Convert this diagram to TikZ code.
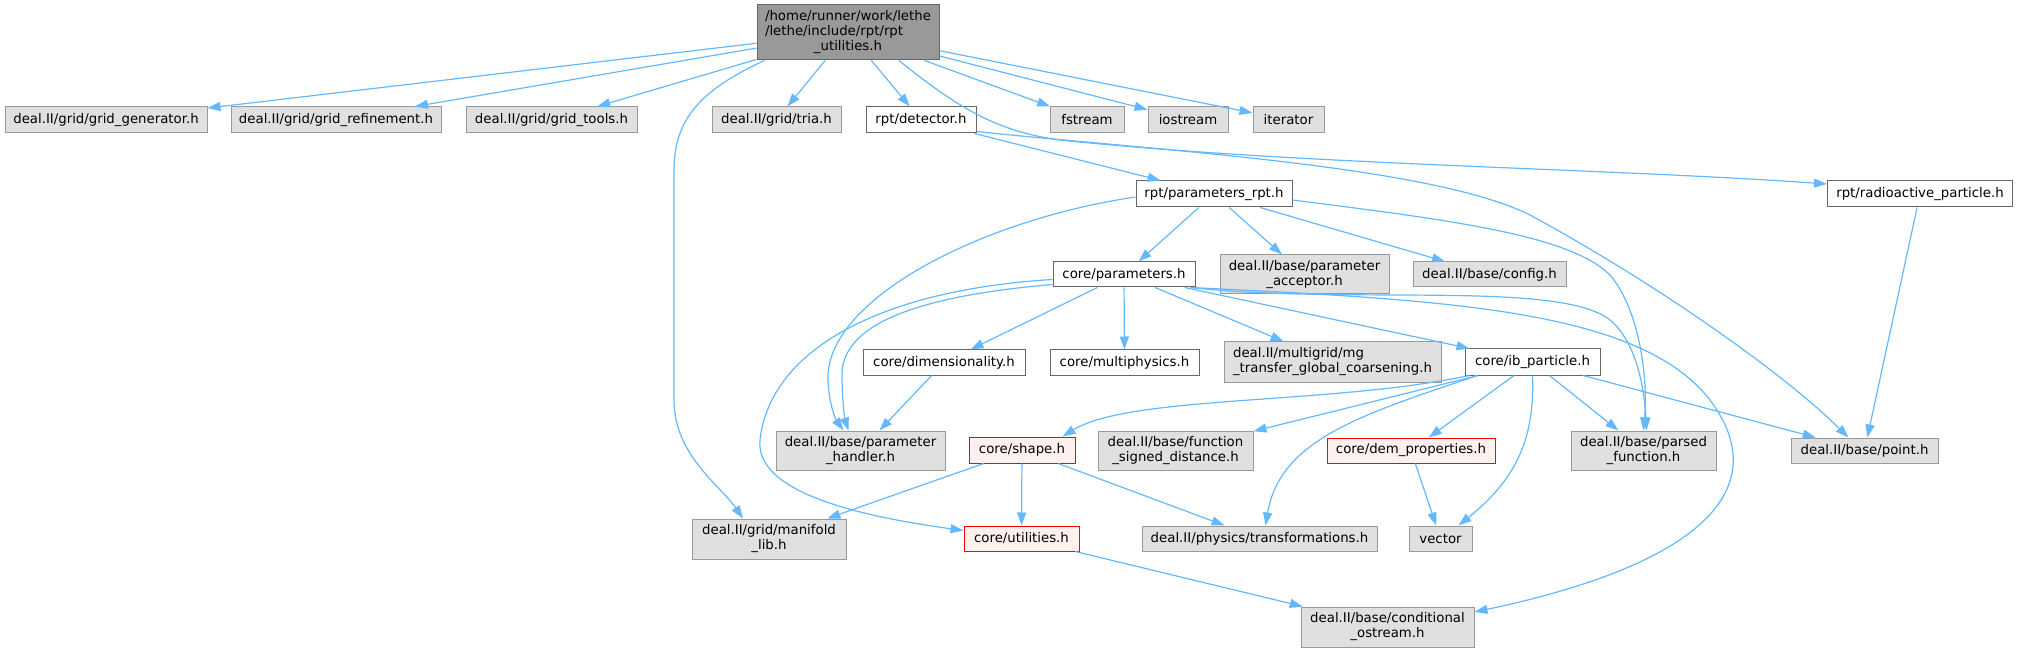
\documentclass[tikz,border=0pt]{standalone}
\usepackage{fontspec}
\setmainfont{DejaVu Sans}
\usepackage{tikz}
\usetikzlibrary{arrows.meta}
\usepackage{xcolor}
\definecolor{edgeblue}{HTML}{63B8FF}
\definecolor{boxgray}{HTML}{E0E0E0}
\definecolor{linegray}{HTML}{999999}
\definecolor{darkline}{HTML}{666666}
\definecolor{warnfill}{HTML}{FFF0F0}
\definecolor{warnred}{HTML}{FF0000}

\begin{document}
\begin{tikzpicture}[
  x=1pt, y=-1pt,
  incl/.style={rectangle, inner sep=0pt, line width=1pt, align=center, font=\fontsize{13.3}{15}\selectfont},
  rootnode/.style={incl, fill=linegray, draw=darkline},
  extnode/.style={incl, fill=boxgray, draw=linegray},
  filenode/.style={incl, fill=white, draw=darkline},
  warnnode/.style={incl, fill=warnfill, draw=warnred},
  arrow/.style={-{Triangle[length=13pt,width=9pt]}, draw=edgeblue, line width=1.2pt}
]
\useasboundingbox (0,0) rectangle (2019,652);

\node[rootnode, minimum width=182pt, minimum height=55pt] (root) at (848,32.5)
  {\begin{tabular}{@{}l@{}}/home/runner/work/lethe\\/lethe/include/rpt/rpt\\\multicolumn{1}{@{}c@{}}{\_utilities.h}\end{tabular}};

\node[extnode, minimum width=202pt, minimum height=26pt] (gridgen) at (106,120) {deal.II/grid/grid\_generator.h};
\node[extnode, minimum width=210pt, minimum height=26pt] (gridref) at (336,120) {deal.II/grid/grid\_refinement.h};
\node[extnode, minimum width=171pt, minimum height=26pt] (gridtools) at (551.5,120) {deal.II/grid/grid\_tools.h};
\node[extnode, minimum width=129pt, minimum height=26pt] (tria) at (776.5,120) {deal.II/grid/tria.h};
\node[filenode, minimum width=110pt, minimum height=26pt] (detector) at (921,120) {rpt/detector.h};
\node[extnode, minimum width=74pt, minimum height=26pt] (fstream) at (1087,120) {fstream};
\node[extnode, minimum width=80pt, minimum height=26pt] (iostream) at (1188,120) {iostream};
\node[extnode, minimum width=71pt, minimum height=26pt] (iterator) at (1288.5,120) {iterator};

\node[filenode, minimum width=156pt, minimum height=26pt] (paramrpt) at (1214,194) {rpt/parameters\_rpt.h};
\node[filenode, minimum width=185pt, minimum height=26pt] (radio) at (1920,194) {rpt/radioactive\_particle.h};

\node[filenode, minimum width=142pt, minimum height=25pt] (coreparam) at (1124,274.5) {core/parameters.h};
\node[extnode, minimum width=169pt, minimum height=39pt] (acceptor) at (1304.5,274.5) {deal.II/base/parameter\\\_acceptor.h};
\node[extnode, minimum width=153pt, minimum height=25pt] (config) at (1489.5,274.5) {deal.II/base/config.h};

\node[filenode, minimum width=162pt, minimum height=25pt] (dimens) at (944,362.5) {core/dimensionality.h};
\node[filenode, minimum width=149pt, minimum height=25pt] (multiphys) at (1124.5,362.5) {core/multiphysics.h};
\node[extnode, minimum width=217pt, minimum height=40pt, align=left] (mgtransfer) at (1332.5,362) {deal.II/multigrid/mg\\\_transfer\_global\_coarsening.h};
\node[filenode, minimum width=135pt, minimum height=26pt] (ibpart) at (1532.5,362) {core/ib\_particle.h};

\node[extnode, minimum width=169pt, minimum height=39pt] (handler) at (860.5,450.5) {deal.II/base/parameter\\\_handler.h};
\node[warnnode, minimum width=106pt, minimum height=26pt] (shape) at (1022,450) {core/shape.h};
\node[extnode, minimum width=155pt, minimum height=39pt] (signdist) at (1175.5,450.5) {deal.II/base/function\\\_signed\_distance.h};
\node[warnnode, minimum width=168pt, minimum height=25pt] (demprop) at (1411,450.5) {core/dem\_properties.h};
\node[extnode, minimum width=145pt, minimum height=39pt] (parsed) at (1643.5,450.5) {deal.II/base/parsed\\\_function.h};
\node[extnode, minimum width=147pt, minimum height=25pt] (point) at (1864.5,450.5) {deal.II/base/point.h};

\node[extnode, minimum width=154pt, minimum height=40pt] (manifold) at (769,539) {deal.II/grid/manifold\\\_lib.h};
\node[warnnode, minimum width=115pt, minimum height=25pt] (utilities) at (1021.5,538.5) {core/utilities.h};
\node[extnode, minimum width=235pt, minimum height=25pt] (transf) at (1259.5,538.5) {deal.II/physics/transformations.h};
\node[extnode, minimum width=63pt, minimum height=25pt] (vector) at (1440.5,538.5) {vector};

\node[extnode, minimum width=173pt, minimum height=40pt] (condout) at (1387.5,627) {deal.II/base/conditional\\\_ostream.h};

\draw[arrow] (root) -- (gridgen);
\draw[arrow] (root) -- (gridref);
\draw[arrow] (root) -- (gridtools);
\draw[arrow] (root) -- (tria);
\draw[arrow] (root) -- (detector);
\draw[arrow] (root) -- (fstream);
\draw[arrow] (root) -- (iostream);
\draw[arrow] (root) -- (iterator);
\draw[arrow] ([xshift=8pt]root.south west) .. controls (700,90) and (674,120) .. (674,170) -- (674,400) .. controls (674,455) and (720,485) .. ([xshift=-26pt]manifold.north);
\draw[arrow] ([xshift=51pt]root.south) .. controls (960,110) and (1000,132) .. (1060,140) .. controls (1300,165) and (1600,168) .. ([yshift=10pt]radio.west);

\draw[arrow] (detector) -- (paramrpt);
\draw[arrow] ([yshift=2pt]detector.south east) .. controls (1150,150) and (1430,165) .. (1530,215) .. controls (1650,280) and (1780,370) .. ([xshift=-16pt]point.north);

\draw[arrow] (paramrpt) -- (coreparam);
\draw[arrow] (paramrpt) -- (acceptor);
\draw[arrow] (paramrpt) -- (config);
\draw[arrow] ([yshift=-3pt]paramrpt.west) .. controls (980,220) and (825,300) .. (828,380) .. controls (829,405) and (836,420) .. ([xshift=-17pt]handler.north);
\draw[arrow] ([yshift=-6pt]paramrpt.east) .. controls (1450,220) and (1570,235) .. (1610,275) .. controls (1640,310) and (1648,380) .. (parsed.north);

\draw[arrow] (coreparam) -- (dimens);
\draw[arrow] (coreparam) -- (multiphys);
\draw[arrow] (coreparam) -- (mgtransfer);
\draw[arrow] (coreparam) -- (ibpart);
\draw[arrow] ([yshift=-10pt]coreparam.west) .. controls (930,295) and (842,320) .. (842,375) .. controls (842,400) and (845,420) .. ([xshift=-12pt]handler.north);
\draw[arrow] ([yshift=-5pt]coreparam.west) .. controls (880,290) and (770,350) .. (760,440) .. controls (755,490) and (850,515) .. ([yshift=8pt]utilities.west);
\draw[arrow] ([xshift=-5pt]coreparam.south east) .. controls (1350,305) and (1560,280) .. (1610,320) .. controls (1640,345) and (1645,400) .. ([xshift=3pt]parsed.north);
\draw[arrow] ([xshift=-5pt]coreparam.south east) .. controls (1450,300) and (1640,310) .. (1710,400) .. controls (1770,480) and (1720,560) .. ([yshift=15pt]condout.east);

\draw[arrow] (dimens) -- (handler);

\draw[arrow] (ibpart) -- (signdist);
\draw[arrow] (ibpart) -- (demprop);
\draw[arrow] (ibpart) -- (parsed);
\draw[arrow] (ibpart) -- (point);
\draw[arrow] ([xshift=5pt]ibpart.south west) .. controls (1330,405) and (1130,395) .. ([xshift=-13pt]shape.north east);
\draw[arrow] ([xshift=13pt]ibpart.south west) .. controls (1360,415) and (1280,440) .. ([xshift=6pt]transf.north);
\draw[arrow] (ibpart.south) .. controls (1535,440) and (1515,480) .. ([xshift=-14pt]vector.north east);

\draw[arrow] (shape) -- (manifold);
\draw[arrow] (shape) -- (utilities);
\draw[arrow] (shape) -- (transf);
\draw[arrow] (demprop) -- (vector);
\draw[arrow] (utilities) -- (condout);
\draw[arrow] (radio) -- (point);
\end{tikzpicture}
\end{document}
